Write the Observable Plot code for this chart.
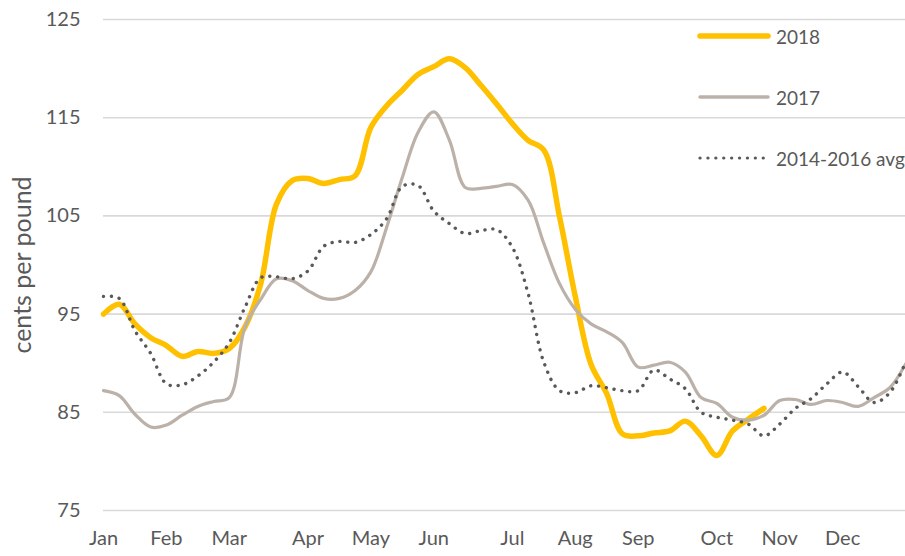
<!DOCTYPE html>
<html>
<head>
<meta charset="utf-8">
<script src="https://cdn.jsdelivr.net/npm/d3@7"></script>
<script src="https://cdn.jsdelivr.net/npm/@observablehq/plot@0.6"></script>
<style>
  html, body { margin: 0; padding: 0; background: #fff; }
  #wrap { position: relative; width: 905px; height: 556px; font-family: Lato, "Open Sans", sans-serif; overflow: hidden; }
  #legend { position: absolute; left: 0; top: 0; width: 905px; height: 556px; pointer-events: none; }
  .lg { position: absolute; display: flex; align-items: center; font-size: 19px; color: #595959; white-space: nowrap; width: 260px; }
  .lg svg { margin-right: 4px; flex: none; }
</style>
</head>
<body>
<div id="wrap"><div id="chart"></div><div id="legend"></div></div>
<script>
// Weekly series (week index 0..51)
const weeks = d3.range(52);
const series2018 = [95.0, 96.0, 94.0, 92.6, 91.8, 90.7, 91.2, 91.0, 91.5, 93.7,
  98.1, 106.2, 108.6, 108.8, 108.3, 108.7, 109.1, 114.0, 116.2, 117.8,
  119.4, 120.2, 121.0, 120.1, 118.3, 116.4, 114.4, 112.7, 111.7, 104.9,
  96.8, 89.9, 86.9, 82.8, 82.6, 82.9, 83.1, 84.1, 82.6, 80.6,
  83.1, 84.3, 85.4];
const series2017 = [87.2, 86.7, 84.8, 83.5, 83.7, 84.7, 85.6, 86.1, 86.5, 93.7,
  96.5, 98.6, 98.4, 97.4, 96.6, 96.6, 97.4, 99.3, 103.8, 108.9,
  113.5, 115.6, 112.7, 107.9, 107.8, 108.0, 108.2, 106.6, 102.2, 98.1,
  95.5, 94.0, 93.2, 92.1, 89.6, 89.8, 90.1, 89.1, 86.5, 85.9,
  84.5, 84.2, 84.7, 86.2, 86.3, 85.8, 86.2, 86.0, 85.6, 86.5,
  87.5, 89.9];
const seriesAvg = [96.8, 96.6, 93.3, 91.0, 87.9, 87.8, 88.7, 90.1, 92.1, 95.7,
  98.7, 98.8, 98.6, 99.4, 101.9, 102.4, 102.3, 103.1, 104.7, 108.0,
  108.1, 105.5, 104.2, 103.2, 103.5, 103.6, 101.8, 97.1, 90.1, 87.2,
  87.0, 87.7, 87.5, 87.2, 87.2, 89.3, 88.4, 87.4, 85.0, 84.5,
  84.2, 83.8, 82.6, 83.8, 85.4, 86.4, 87.9, 89.1, 87.6, 86.0,
  87.0, 90.1];

const monthLabels = ["Jan","Feb","Mar","Apr","May","Jun","Jul","Aug","Sep","Oct","Nov","Dec"];
const monthWeeks = [0, 4, 8, 13, 17, 21, 26, 30, 34, 39, 43, 47];
const yTicks = [75, 85, 95, 105, 115, 125];

const seriesNames = ["2018", "2017", "2014-2016 avg"];
const seriesColors = ["#FFC000", "#BCB1A9", "#595959"];

const d2018 = series2018.map((v, i) => ({week: weeks[i], value: v}));
const d2017 = series2017.map((v, i) => ({week: weeks[i], value: v}));
const dAvg = seriesAvg.map((v, i) => ({week: weeks[i], value: v}));

const chart = Plot.plot({
  width: 905,
  height: 556,
  marginLeft: 103,
  marginRight: 0,
  marginTop: 19,
  marginBottom: 46,
  style: {fontFamily: "Lato, 'Open Sans', sans-serif", fontSize: "20px", color: "#595959", background: "#fff"},
  x: {domain: [0, 51], axis: null},
  y: {domain: [75, 125], axis: null},
  marks: [
    Plot.gridY(yTicks, {stroke: "#d9d9d9", strokeOpacity: 1, strokeWidth: 1.6}),
    Plot.axisY(yTicks, {tickSize: 0, tickPadding: 23, fontSize: 20, fill: "#595959", label: null}),
    Plot.axisX(monthWeeks, {tickSize: 0, tickPadding: 20, fontSize: 20, fill: "#595959", label: null,
      tickFormat: (d) => monthLabels[monthWeeks.indexOf(d)]}),
    Plot.text(["cents per pound"], {frameAnchor: "left", textAnchor: "middle", dx: -81, rotate: -90, fontSize: 25, fill: "#595959"}),
    Plot.line(d2018, {x: "week", y: "value", stroke: seriesColors[0], strokeWidth: 5.5, curve: "catmull-rom", strokeLinecap: "round"}),
    Plot.line(d2017, {x: "week", y: "value", stroke: seriesColors[1], strokeWidth: 3.2, curve: "catmull-rom"}),
    Plot.line(dAvg, {x: "week", y: "value", stroke: seriesColors[2], strokeWidth: 3.4, curve: "catmull-rom",
      strokeDasharray: "0.1 7.8", strokeLinecap: "round"})
  ]
});
document.getElementById("chart").appendChild(chart);

// Legend (inside the plot area, top right)
const legend = document.getElementById("legend");
const legendTops = [36, 97, 158];
const legendStyles = [
  {w: 5.5, dash: null, cap: "round"},
  {w: 3.4, dash: null, cap: "round"},
  {w: 3.2, dash: "0.1 7.8", cap: "round"}
];
seriesNames.forEach((name, i) => {
  const div = document.createElement("div");
  div.className = "lg";
  div.style.left = "696px";
  div.style.top = (legendTops[i] - 13) + "px";
  div.style.height = "26px";
  const s = legendStyles[i];
  div.innerHTML = `<svg width="76" height="12"><line x1="4" y1="6" x2="72" y2="6" stroke="${seriesColors[i]}" stroke-width="${s.w}" stroke-linecap="${s.cap}" ${s.dash ? `stroke-dasharray="${s.dash}"` : ""}/></svg><span>${name}</span>`;
  legend.appendChild(div);
});
</script>
</body>
</html>
